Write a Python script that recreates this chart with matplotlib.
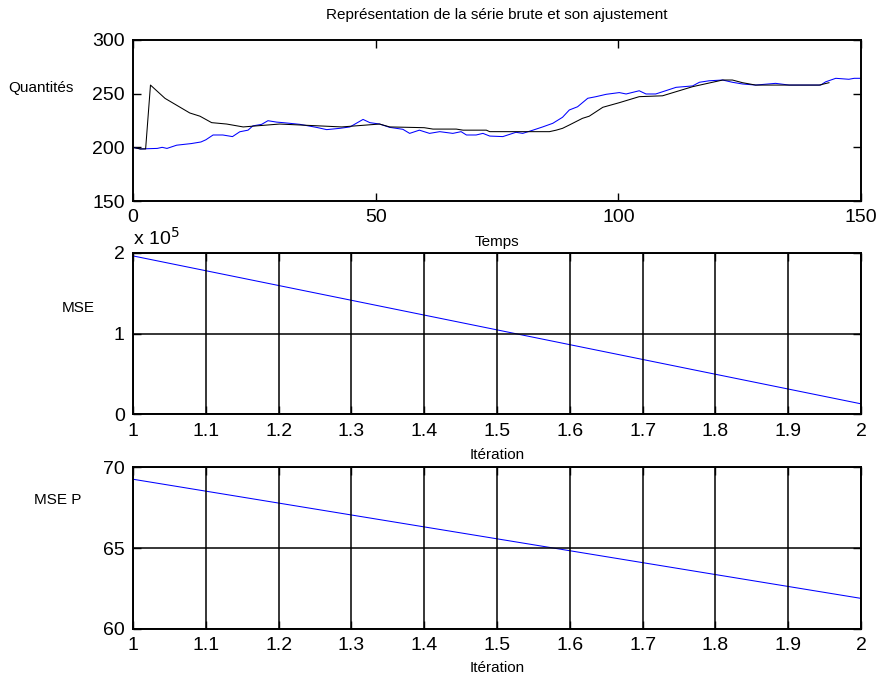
import matplotlib
matplotlib.use("Agg")
import matplotlib.pyplot as plt
from matplotlib.ticker import FuncFormatter

plt.rcParams['font.family'] = ['Liberation Sans', 'DejaVu Sans']

# série brute (bleu) : temps / quantités
t_brute = [0, 1.5, 5, 6, 7, 9, 12, 14, 15, 16.5, 18.5, 20.5, 22, 23.7, 24.7, 26.5,
           27.8, 29.6, 30.9, 34.4, 37.8, 39.9, 42.6, 44.7, 47.4, 48.8, 50.8, 52.9,
           55.6, 57, 59, 61.1, 63.2, 65.9, 67.6, 68.7, 70.7, 72.1, 73.5, 76.2, 78.9,
           80.3, 82.4, 84.4, 86.5, 88.5, 89.9, 91.6, 93.7, 95.4, 97.5, 100.2, 101.6,
           104.3, 105.7, 107.7, 111.9, 115.3, 116.7, 118.7, 121.5, 123.5, 125.6,
           128.3, 132.4, 135.2, 141.7, 142.7, 144.8, 147.5, 148.6, 150]
q_brute = [200, 198.5, 199, 200, 199, 202, 203.5, 205, 207, 211.5, 211.5, 210, 214.5,
           216, 220, 221.4, 224.8, 223.5, 223, 221.4, 218.6, 216.5, 217.7, 219, 226,
           223, 221.7, 218.6, 216.8, 213, 216, 213, 214.6, 213, 214.6, 211.5, 211.5,
           213, 210.5, 210, 214, 213, 216, 219, 222.4, 228, 234.8, 237.8, 245.7,
           247.2, 249.4, 251, 249.7, 252.7, 249.7, 249.7, 255.9, 257.2, 260.6, 262,
           262.7, 260.6, 259, 258, 259.6, 258, 258, 261, 264.3, 263.4, 264.3, 264.3]

# ajustement (noir)
t_ajust = [0, 1.5, 2.6, 3.6, 6.6, 11.7, 13.8, 16.2, 19.3, 22.7, 30.2, 43, 50.8, 52.9,
           57, 60, 61.8, 66.6, 68, 72.8, 73.5, 85.8, 87.2, 88.5, 89.9, 92.6, 94, 96.8,
           100.2, 104.3, 109.1, 115.3, 121.5, 123.5, 125.6, 128.3, 141.4, 143.4]
q_ajust = [200, 198.5, 198.5, 258, 245.6, 232, 229, 223, 221.7, 219, 221.7, 219, 221.7,
           219, 218.6, 218.3, 217, 217, 216, 216, 214.6, 214.6, 216, 217.7, 220.8, 227,
           229, 237.3, 241.6, 247.2, 248, 256.5, 262.7, 262.7, 260.2, 258, 258, 260.2]

iterations = [1, 2]
mse = [1.96e5, 0.13e5]
mse_p = [69.26, 61.88]

fig = plt.figure(figsize=(8.82, 6.8), dpi=100)
ax1 = fig.add_axes([0.1508, 0.7044, 0.8254, 0.2368])
ax2 = fig.add_axes([0.1508, 0.3907, 0.8254, 0.2377])
ax3 = fig.add_axes([0.1508, 0.0754, 0.8254, 0.2374])

for ax in (ax1, ax2, ax3):
    ax.tick_params(direction='in', top=True, right=True, length=6, width=1,
                   labelsize=14, pad=6)
    for s in ax.spines.values():
        s.set_linewidth(1.4)

ax1.plot(t_brute, q_brute, color='#0000ff', lw=0.75)
ax1.plot(t_ajust, q_ajust, color='black', lw=0.75)
ax1.set_xlim(0, 150)
ax1.set_ylim(150, 300)
ax1.set_xticks([0, 50, 100, 150])
ax1.set_yticks([150, 200, 250, 300])
ax1.set_title("Représentation de la série brute et son ajustement", fontsize=11, pad=15)
ax1.set_xlabel("Temps", fontsize=11, labelpad=6)

ticks_it = [1, 1.1, 1.2, 1.3, 1.4, 1.5, 1.6, 1.7, 1.8, 1.9, 2]
lab_it = ['1', '1.1', '1.2', '1.3', '1.4', '1.5', '1.6', '1.7', '1.8', '1.9', '2']

ax2.plot(iterations, mse, color='#0000ff', lw=0.75)
ax2.set_xlim(1, 2)
ax2.set_ylim(0, 2e5)
ax2.set_yticks([0, 1e5, 2e5])
ax2.yaxis.set_major_formatter(FuncFormatter(lambda v, p: f"{v/1e5:g}"))
ax2.text(0, 1.025, "x 10$^5$", transform=ax2.transAxes, fontsize=14, ha='left', va='bottom')
ax2.set_xlabel("Itération", fontsize=11, labelpad=6)

ax3.plot(iterations, mse_p, color='#0000ff', lw=0.75)
ax3.set_xlim(1, 2)
ax3.set_ylim(60, 70)
ax3.set_yticks([60, 65, 70])
ax3.set_xlabel("Itération", fontsize=11, labelpad=5)

for ax in (ax2, ax3):
    ax.set_xticks(ticks_it)
    ax.set_xticklabels(lab_it)
    ax.grid(True, color='black', linestyle='-', linewidth=1.1)
    ax.set_axisbelow(False)

fig.text(41 / 882, 1 - 88 / 680, "Quantités", fontsize=11, ha='center', va='center')
fig.text(78 / 882, 1 - 308 / 680, "MSE", fontsize=11, ha='center', va='center')
fig.text(58 / 882, 1 - 500 / 680, "MSE P", fontsize=11, ha='center', va='center')

fig.savefig("out.png", dpi=100)
